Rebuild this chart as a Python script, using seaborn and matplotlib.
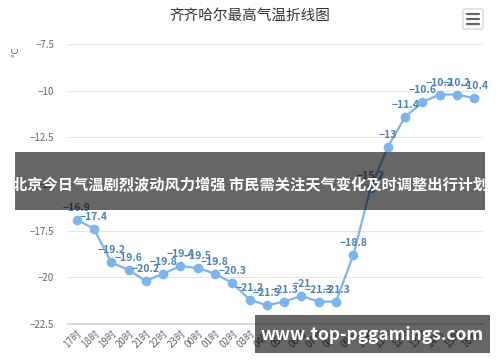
import matplotlib
matplotlib.use("Agg")
import matplotlib.pyplot as plt
import matplotlib.patches as patches
import seaborn as sns
import pandas as pd
import numpy as np

hours = ["17时", "18时", "19时", "20时", "21时", "22时", "23时", "00时", "01时", "02时",
         "03时", "04时", "05时", "06时", "07时", "08时", "09时", "10时", "11时", "12时",
         "13时", "14时", "15时", "16时"]
temps = [-16.9, -17.4, -19.2, -19.6, -20.2, -19.8, -19.4, -19.5, -19.8, -20.3,
         -21.2, -21.5, -21.3, -21.0, -21.3, -21.3, -18.8, -15.2, -13.0, -11.4,
         -10.6, -10.2, -10.2, -10.4]
yticks = [-22.5, -20, -17.5, -15, -12.5, -10, -7.5]

sns.set_theme(style="white")
plt.rcParams['font.family'] = ['Noto Sans CJK SC', 'DejaVu Sans']

df = pd.DataFrame({"idx": np.arange(len(hours)), "temp": temps})

fig = plt.figure(figsize=(5, 3.62), dpi=100)
ax = fig.add_axes([0.136, 0.105, 0.83, 0.773])
sns.lineplot(data=df, x="idx", y="temp", ax=ax, color="#7cb5ec", linewidth=1.6,
             marker="o", markersize=7, markeredgewidth=0, zorder=3)

ax.set_xlim(-0.5, len(hours) - 0.5)
ax.set_ylim(-22.5, -7.5)
ax.set_yticks(yticks)
ax.set_yticklabels([("−%g" % abs(v)) for v in yticks], fontsize=7, color="#666666")
ax.yaxis.grid(True, color="#e6e6e6", linewidth=0.8)
ax.tick_params(axis="y", length=0, pad=10)
ax.set_xticks(np.arange(len(hours)))
ax.set_xticklabels(hours, rotation=45, ha="right", rotation_mode="anchor",
                   fontsize=7, color="#666666")
ax.tick_params(axis="x", which="major", length=0, pad=3)
ax.set_xticks(np.arange(len(hours) + 1) - 0.5, minor=True)
ax.tick_params(axis="x", which="minor", length=9, color="#ccd6eb", width=0.8, direction="out")
for s in ["top", "right", "left"]:
    ax.spines[s].set_visible(False)
ax.spines["bottom"].set_color("#ccd6eb")
ax.set_xlabel("")
ax.set_ylabel("")

for i, v in enumerate(temps):
    lbl = ("−%g" % abs(v))
    ax.annotate(lbl, (i, v), xytext=(0, 5), textcoords="offset points", ha="center",
                va="bottom", fontsize=7.5, fontweight="bold", color="#4f80b3", zorder=4)

fig.text(0.5, 0.955, "齐齐哈尔最高气温折线图", ha="center", va="center", fontsize=10.5, color="#333333")
fig.text(0.032, 0.856, "℃", ha="center", va="center", fontsize=7, color="#666666", rotation=90)

# menu icon
box = patches.FancyBboxPatch((463 / 500, 1 - 29 / 362), 20 / 500, 20 / 362,
                             boxstyle="round,pad=0,rounding_size=0.004",
                             transform=fig.transFigure, facecolor="white",
                             edgecolor="#cccccc", linewidth=0.8)
fig.patches.append(box)
for yy in [14, 19, 24]:
    fig.add_artist(plt.Line2D([467 / 500, 479 / 500], [1 - yy / 362, 1 - yy / 362],
                              transform=fig.transFigure, color="#666666", linewidth=1.6))

# banner overlay
fig.patches.append(patches.Rectangle((15 / 500, 1 - 210 / 362), 470 / 500, 58 / 362,
                                     transform=fig.transFigure, facecolor="black",
                                     alpha=0.6, edgecolor="none", zorder=10))
fig.text(250 / 500, 1 - 185 / 362, "北京今日气温剧烈波动风力增强 市民需关注天气变化及时调整出行计划",
         ha="center", va="center", fontsize=11, fontweight="bold", color="white", zorder=11)

fig.patches.append(patches.Rectangle((255 / 500, 1 - 353 / 362), 235 / 500, 38 / 362,
                                     transform=fig.transFigure, facecolor="black",
                                     alpha=0.6, edgecolor="none", zorder=10))
fig.text(372 / 500, 1 - 335 / 362, "www.top-pggamings.com", ha="center", va="center",
         fontsize=12.5, fontweight="bold", color="white", zorder=11)

fig.savefig("out.png", dpi=100)
